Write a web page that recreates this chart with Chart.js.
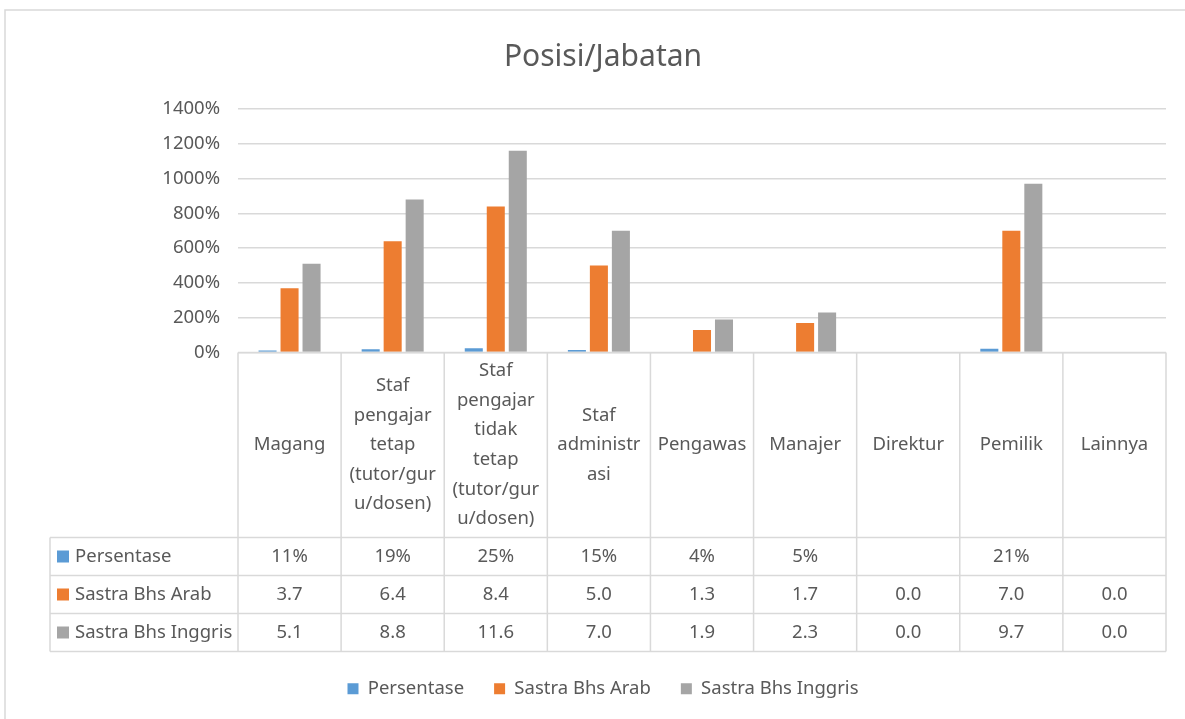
<!DOCTYPE html>
<html>
<head>
<meta charset="utf-8">
<script src="https://cdn.jsdelivr.net/npm/chart.js@4"></script>
<style>
  html, body { margin: 0; padding: 0; background: #fff; overflow: hidden; }
  #wrap { width: 1185px; height: 719px; overflow: hidden; }
</style>
</head>
<body>
<div id="wrap"><canvas id="myChart" width="1185" height="730"></canvas></div>
<script>
// Categories (already wrapped the way the table shows them)
const categories = [
    ["Magang"],
    ["Staf", "pengajar", "tetap", "(tutor/gur", "u/dosen)"],
    ["Staf", "pengajar", "tidak", "tetap", "(tutor/gur", "u/dosen)"],
    ["Staf", "administr", "asi"],
    ["Pengawas"],
    ["Manajer"],
    ["Direktur"],
    ["Pemilik"],
    ["Lainnya"]
];

// Series values
const persentase = [0.11, 0.19, 0.25, 0.15, 0.04, 0.05, null, 0.21, null];
const sastraArab = [3.7, 6.4, 8.4, 5.0, 1.3, 1.7, 0.0, 7.0, 0.0];
const sastraInggris = [5.1, 8.8, 11.6, 7.0, 1.9, 2.3, 0.0, 9.7, 0.0];

const seriesNames = ["Persentase", "Sastra Bhs Arab", "Sastra Bhs Inggris"];
const seriesColors = ["#5B9BD5", "#ED7D31", "#A5A5A5"];

// Y axis ticks
const yMin = 0;
const yMax = 14;
const yStep = 2;

const textColor = "#595959";
const lineColor = "#D9D9D9";
const fontFamily = "'Noto Sans', 'Open Sans', sans-serif";
const fontSize = 18.5;

// Format values the way the data table shows them
function formatCell(seriesIndex, v) {
    if (v === null || v === undefined) return "";
    if (seriesIndex === 0) return Math.round(v * 100) + "%";
    return v.toFixed(1);
}

// Draws the white background and outer frame
const framePlugin = {
    id: "frame",
    beforeDraw(chart) {
        const ctx = chart.ctx;
        ctx.save();
        ctx.fillStyle = "#fff";
        ctx.fillRect(0, 0, chart.width, chart.height);
        ctx.strokeStyle = lineColor;
        ctx.lineWidth = 1.5;
        ctx.strokeRect(5, 10, chart.width + 20, chart.height + 20);
        ctx.restore();
    }
};

// Draws the data table under the plot, using the x scale for columns
const dataTablePlugin = {
    id: "dataTable",
    afterDraw(chart) {
        const ctx = chart.ctx;
        const x = chart.scales.x;
        const area = chart.chartArea;
        const n = categories.length;
        const colW = (area.right - area.left) / n;
        const top = area.bottom;
        const headerBottom = top + 185;
        const rowH = 38;
        const tableBottom = headerBottom + rowH * seriesNames.length;
        const labelLeft = 50;

        ctx.save();
        ctx.strokeStyle = lineColor;
        ctx.lineWidth = 1.5;

        // horizontal lines
        ctx.beginPath();
        ctx.moveTo(area.left, top);
        ctx.lineTo(area.right, top);
        for (let r = 0; r <= seriesNames.length; r++) {
            const yy = headerBottom + r * rowH;
            ctx.moveTo(labelLeft, yy);
            ctx.lineTo(area.right, yy);
        }
        // vertical lines
        for (let i = 0; i <= n; i++) {
            const xx = area.left + i * colW;
            ctx.moveTo(xx, top);
            ctx.lineTo(xx, tableBottom);
        }
        ctx.moveTo(labelLeft, headerBottom);
        ctx.lineTo(labelLeft, tableBottom);
        ctx.stroke();

        ctx.fillStyle = textColor;
        ctx.font = fontSize + "px " + fontFamily;
        ctx.textAlign = "center";
        ctx.textBaseline = "middle";

        // header labels
        const lineGap = 29.6;
        const headerMid = (top + headerBottom) / 2;
        categories.forEach((lines, i) => {
            const cx = x.getPixelForValue(i);
            const startY = headerMid - (lines.length - 1) * lineGap / 2;
            lines.forEach((t, k) => ctx.fillText(t, cx, startY + k * lineGap));
        });

        // rows
        const rows = [persentase, sastraArab, sastraInggris];
        rows.forEach((vals, r) => {
            const cy = headerBottom + r * rowH + rowH / 2;
            ctx.fillStyle = seriesColors[r];
            ctx.fillRect(57, cy - 6, 12, 12);
            ctx.fillStyle = textColor;
            ctx.textAlign = "left";
            ctx.fillText(seriesNames[r], 75, cy);
            ctx.textAlign = "center";
            vals.forEach((v, i) => {
                ctx.fillText(formatCell(r, v), x.getPixelForValue(i), cy);
            });
        });
        ctx.restore();
    }
};

const datasets = [persentase, sastraArab, sastraInggris].map((d, i) => ({
    label: seriesNames[i],
    data: d,
    backgroundColor: seriesColors[i],
    borderWidth: 0,
    categoryPercentage: 0.64,
    barPercentage: 0.82
}));

new Chart(document.getElementById("myChart"), {
    type: "bar",
    data: {
        labels: categories.map(c => c.join(" ")),
        datasets: datasets
    },
    options: {
        responsive: false,
        animation: false,
        layout: { padding: { top: 0, left: 40, right: 19, bottom: 22 } },
        plugins: {
            title: {
                display: true,
                text: "Posisi/Jabatan",
                color: textColor,
                font: { family: fontFamily, size: 30, weight: "normal" },
                padding: { top: 39, bottom: 34 }
            },
            legend: {
                position: "bottom",
                labels: {
                    color: textColor,
                    font: { family: fontFamily, size: fontSize },
                    boxWidth: 11,
                    boxHeight: 11,
                    padding: 30
                }
            },
            tooltip: { enabled: false }
        },
        scales: {
            x: {
                grid: { display: false },
                border: { display: false },
                ticks: { display: false },
                afterFit(scale) { scale.height = 297; }
            },
            y: {
                min: yMin,
                max: yMax,
                grid: { color: lineColor, lineWidth: 1.5, drawTicks: false },
                border: { display: false },
                ticks: {
                    stepSize: yStep,
                    padding: 18,
                    color: textColor,
                    font: { family: fontFamily, size: fontSize },
                    callback: v => Math.round(v * 100) + "%"
                },
                afterFit(scale) { scale.width = 198; }
            }
        }
    },
    plugins: [framePlugin, dataTablePlugin]
});
</script>
</body>
</html>
